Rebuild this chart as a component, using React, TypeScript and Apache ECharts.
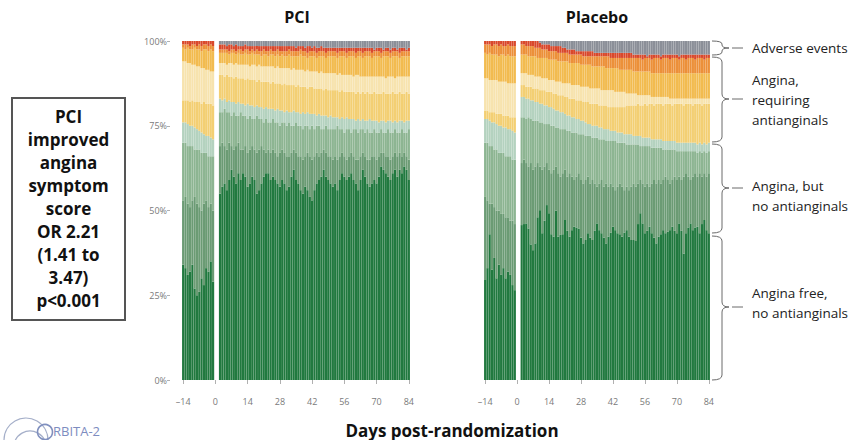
import React, { useEffect, useRef } from "react";
import * as echarts from "echarts";

// ---------- categories (days post-randomization) ----------
const days = [
  -14, -13, -12, -11, -10, -9, -8, -7, -6, -5, -4, -3, -2, -1, 0,
  1, 2, 3, 4, 5, 6, 7, 8, 9, 10, 11, 12, 13, 14, 15, 16, 17, 18, 19, 20,
  21, 22, 23, 24, 25, 26, 27, 28, 29, 30, 31, 32, 33, 34, 35, 36, 37, 38, 39, 40,
  41, 42, 43, 44, 45, 46, 47, 48, 49, 50, 51, 52, 53, 54, 55, 56, 57, 58, 59, 60,
  61, 62, 63, 64, 65, 66, 67, 68, 69, 70, 71, 72, 73, 74, 75, 76, 77, 78, 79, 80,
  81, 82, 83, 84,
];
const yTicks = [0, 25, 50, 75, 100];

// ---------- cumulative upper boundaries (%) ----------
// B1 angina free (dark green) ... B9 top of red; grey (adverse events) fills to 100
// PCI, pre-randomization (days -14..-1)
const pciPreB1 = [34, 33, 31, 32, 34, 27, 25, 26, 30, 28, 33, 32, 35, 29];
const pciPreB2 = [53, 54, 52, 51, 53, 54, 52, 51, 50, 52, 53, 51, 52, 50];
const pciPreB3 = [70, 70, 69, 69, 69, 68, 68, 68, 67, 67, 67, 66, 66, 66];
const pciPreB4 = [76, 76, 75.5, 75, 75, 74.5, 74, 73.5, 73, 72.5, 72, 72, 71.5, 71];
const pciPreB5 = [82.5, 82.5, 82.5, 82, 82.5, 82, 82, 82, 81.5, 82, 81.5, 81.5, 81.5, 81];
const pciPreB6 = [94, 94, 93.5, 93.5, 93, 93, 92.5, 92.5, 92, 92, 91.5, 91.5, 91, 91];
const pciPreB7 = [98, 97.5, 98, 97.5, 97.5, 98, 97.5, 97.5, 97, 97.5, 97.5, 97, 97.5, 97];
const pciPreB8 = [99, 99, 99, 98.5, 99, 99, 98.5, 99, 98.5, 99, 99, 98.5, 99, 98.5];
const pciPreB9 = [100, 100, 100, 100, 100, 100, 100, 100, 100, 100, 100, 100, 100, 100];

// PCI, post-randomization (days 2..84)
const pciPostB1 = [
  55, 57, 58, 56, 59, 62, 60, 58, 61, 59,
  61, 60, 57, 58, 60, 59, 55, 56, 58, 60,
  61, 61, 59, 60, 59, 58, 57, 59, 58, 56,
  57, 60, 62, 59, 58, 56, 55, 57, 56, 54,
  53, 56, 58, 59, 60, 62, 60, 59, 58, 57,
  58, 56, 59, 61, 60, 59, 60, 61, 59, 58,
  56, 59, 62, 60, 58, 57, 58, 59, 58, 60,
  63, 62, 61, 60, 59, 61, 62, 60, 62, 61,
  63, 62, 59,
];
const pciPostB2 = [
  69, 70, 69, 68, 70, 69, 68, 69, 70, 68,
  68, 69, 67, 68, 69, 68, 67, 68, 69, 68,
  67, 68, 67, 68, 67, 66, 67, 68, 67, 66,
  66, 67, 68, 67, 66, 66, 65, 66, 67, 66,
  65, 66, 67, 66, 67, 68, 67, 66, 66, 65,
  66, 65, 66, 67, 66, 65, 66, 67, 66, 65,
  65, 66, 67, 66, 65, 65, 66, 66, 65, 66,
  67, 67, 66, 66, 65, 66, 67, 66, 67, 66,
  67, 66, 65,
];
const pciPostB3 = [
  79, 79, 80, 79, 79, 78, 79, 78, 78, 79,
  78, 78, 77, 78, 77, 77, 78, 77, 77, 76,
  77, 76, 76, 77, 76, 76, 75, 76, 76, 75,
  76, 75, 75, 76, 75, 75, 74, 75, 75, 74,
  75, 74, 75, 75, 74, 74, 75, 74, 74, 74,
  74, 75, 74, 74, 73, 74, 74, 73, 74, 74,
  73, 74, 74, 73, 74, 73, 73, 74, 73, 73,
  74, 73, 73, 74, 73, 73, 74, 73, 73, 74,
  73, 73, 74,
];
const pciPostB4 = [
  83, 82.5, 83, 82, 82.5, 82, 82, 81.5, 82, 81.5,
  81.5, 81, 81.5, 81, 81, 80.5, 81, 80.5, 80.5, 80,
  80.5, 80, 80, 80, 79.5, 80, 79.5, 79.5, 79, 79.5,
  79, 79, 79.5, 79, 79, 78.5, 79, 78.5, 79, 78.5,
  78.5, 78.5, 78, 78.5, 78, 78, 78, 77.5, 78, 77.5,
  77.5, 77.5, 77, 77.5, 77, 77.5, 77, 77, 77, 76.5,
  77, 76.5, 77, 76.5, 76.5, 77, 76.5, 76.5, 76.5, 76,
  76.5, 76.5, 76, 76.5, 76.5, 76, 76.5, 76, 76.5, 76.5,
  76, 76.5, 76.5,
];
const pciPostB5 = [
  90, 90, 89.5, 90, 89.5, 89.5, 89, 89.5, 89, 89,
  89, 88.5, 89, 88.5, 88.5, 88.5, 88, 88.5, 88, 88,
  88, 88, 87.5, 88, 87.5, 87.5, 87.5, 87, 87.5, 87,
  87, 87, 87, 86.5, 87, 86.5, 86.5, 86.5, 86, 86.5,
  86.5, 86, 86, 86, 86, 85.5, 86, 85.5, 85.5, 85.5,
  85.5, 85.5, 85, 85.5, 85, 85, 85, 85, 85, 84.5,
  85, 84.5, 85, 84.5, 85, 84.5, 84.5, 85, 84.5, 84.5,
  84.5, 85, 84.5, 84.5, 84.5, 85, 84.5, 84.5, 85, 84.5,
  84.5, 85, 84.5,
];
const pciPostB6 = [
  93.5, 93.5, 93.5, 93, 93.5, 93.5, 93, 93.5, 93, 93,
  93, 93, 93, 92.5, 93, 93, 92.5, 93, 92.5, 92.5,
  92.5, 92.5, 92.5, 92.5, 92, 92.5, 92, 92, 92, 92,
  92, 91.5, 92, 91.5, 91.5, 91.5, 91.5, 91, 91.5, 91,
  91, 91, 91, 90.5, 91, 90.5, 90.5, 90.5, 90.5, 90.5,
  90.5, 90, 90.5, 90, 90, 90, 90, 90, 89.5, 90,
  90, 89.5, 89.5, 89.5, 89.5, 89.5, 89.5, 89.5, 89.5, 89.5,
  89.5, 89.5, 89, 89.5, 89.5, 89.5, 89, 89.5, 89.5, 89.5,
  89.5, 89.5, 89.5,
];
const pciPostB7 = [
  96.5, 96.5, 96.5, 96.5, 96, 96.5, 96.5, 96, 96.5, 96,
  96, 96.5, 96, 96, 96.5, 96, 96, 96, 95.5, 96,
  96, 95.5, 96, 96, 95.5, 96, 95.5, 96, 95.5, 95.5,
  96, 95.5, 95.5, 95.5, 95.5, 96, 95.5, 95.5, 95, 95.5,
  95.5, 95.5, 95, 95.5, 95.5, 95.5, 95, 95.5, 95.5, 95.5,
  95.5, 95, 95.5, 95.5, 95.5, 95, 95.5, 95.5, 95.5, 95,
  95.5, 95.5, 95, 95.5, 95.5, 95.5, 95, 95.5, 95.5, 95.5,
  95, 95.5, 95.5, 95.5, 95, 95.5, 95.5, 95.5, 95, 95.5,
  95.5, 95.5, 95.5,
];
const pciPostB8 = [
  97.5, 97.5, 97.5, 97.5, 97, 97.5, 97.5, 97, 97.5, 97.5,
  97, 97.5, 97.5, 97, 97.5, 97, 97.5, 97, 97, 97.5,
  97, 97, 97.5, 97, 97, 97.5, 97, 97, 97, 97,
  97.5, 97, 97, 97, 97, 97.5, 97, 97, 96.5, 97,
  97, 97, 96.5, 97, 97, 97, 96.5, 97, 97, 97,
  97, 96.5, 97, 97, 97, 96.5, 97, 97, 97, 96.5,
  97, 97, 96.5, 97, 97, 97, 96.5, 97, 97, 97,
  96.5, 97, 97, 97, 96.5, 97, 97, 97, 96.5, 97,
  97, 97, 97,
];
const pciPostB9 = [
  99, 99, 99, 98.5, 99, 99, 98.5, 99, 98.5, 98.5,
  98.5, 99, 98.5, 98.5, 98.5, 98.5, 98.5, 98.5, 98.5, 98.5,
  98.5, 98.5, 98.5, 98.5, 98.5, 98.5, 98.5, 98.5, 98.5, 98.5,
  98.5, 98.5, 98.5, 98, 98.5, 98.5, 98.5, 98, 98.5, 98.5,
  98, 98.5, 98, 98, 98.5, 98, 98, 98, 98, 98,
  98, 98, 98, 98, 98, 98, 98, 98, 98, 98,
  98, 98, 98, 98, 98, 98, 98, 97.5, 98, 98,
  98, 97.5, 98, 98, 97.5, 98, 98, 97.5, 98, 98,
  98, 97.5, 98,
];

// Placebo, pre-randomization (days -14..-1)
const pboPreB1 = [29.5, 33, 43, 32.5, 36, 30, 34, 31, 33, 30, 32, 31, 28, 26.5];
const pboPreB2 = [54, 53, 52, 52, 51, 50, 50, 49, 49, 48, 48, 47, 47, 46];
const pboPreB3 = [70, 70, 69, 69, 68, 68, 67, 67, 67, 66, 66, 66, 65, 65];
const pboPreB4 = [77, 77, 76.5, 76, 76, 75.5, 75, 75, 74.5, 74.5, 74, 74, 73.5, 73];
const pboPreB5 = [79.5, 79.5, 79, 79, 79, 78.5, 78.5, 78.5, 78, 78, 78, 77.5, 77.5, 77.5];
const pboPreB6 = [89, 89, 88.5, 88.5, 88.5, 88.5, 88, 88, 88, 88, 87.5, 87.5, 87.5, 87.5];
const pboPreB7 = [96.5, 96, 96.5, 96, 96, 96, 95.5, 96, 96, 95.5, 96, 95.5, 95.5, 95.5];
const pboPreB8 = [99, 99, 99, 98.5, 99, 99, 98.5, 99, 98.5, 98.5, 99, 98.5, 98.5, 98.5];
const pboPreB9 = [100, 100, 100, 100, 100, 100, 100, 100, 100, 100, 100, 100, 100, 100];

// Placebo, post-randomization (days 2..84)
const pboPostB1 = [
  45.7, 46, 46.2, 44.7, 40, 38.3, 40.3, 48, 50.1, 43.3,
  47, 51.6, 49.2, 43, 42.3, 50, 42.3, 42.8, 43, 47.2,
  44, 42.3, 44.2, 45.2, 45, 44.7, 42, 40.3, 41.3, 43.3,
  42, 41.3, 44, 46.2, 44.2, 43.3, 42, 40.3, 42.3, 43.5,
  45.2, 44.2, 43.3, 43, 42.3, 43.5, 44.2, 42.3, 41.3, 41.3,
  41, 46, 49.2, 46.2, 43.3, 44, 45.2, 43.3, 42, 40.3,
  42.3, 43, 44.2, 43.3, 43.8, 44.2, 45.2, 44, 43.3, 46.2,
  44, 37.3, 43.3, 45, 46.2, 44.2, 45, 45.2, 43.3, 46,
  47.2, 44.2, 43.3,
];
const pboPostB2 = [
  64, 65, 64, 63, 64, 62, 63, 64, 63, 62,
  63, 64, 62, 61, 62, 63, 61, 60, 61, 62,
  60, 61, 60, 59, 60, 61, 59, 58, 59, 60,
  58, 59, 58, 57, 58, 59, 57, 58, 57, 58,
  57, 56, 57, 58, 57, 56, 57, 56, 57, 58,
  57, 58, 59, 58, 57, 58, 57, 58, 59, 58,
  59, 58, 59, 60, 59, 58, 59, 60, 59, 60,
  59, 60, 61, 60, 59, 60, 61, 60, 61, 60,
  61, 60, 61,
];
const pboPostB3 = [
  77.5, 77.5, 77, 77.5, 77, 76.5, 76.5, 76.5, 76, 76,
  75.5, 75.5, 75.5, 75, 75, 74.5, 74.5, 74, 74, 74,
  73.5, 73.5, 73, 73, 73, 72.5, 72.5, 72.5, 72, 72,
  72, 71.5, 71.5, 71.5, 71, 71, 71, 70.5, 70.5, 70.5,
  70.5, 70.5, 70, 70, 70, 70, 69.5, 69.5, 69.5, 69.5,
  69.5, 69.5, 69, 69, 69, 69, 69, 68.5, 68.5, 68.5,
  68.5, 68.5, 68, 68, 68, 68, 68, 68, 67.5, 67.5,
  67.5, 67.5, 67.5, 67.5, 67.5, 67.5, 67.5, 67, 67.5, 67,
  67.5, 67, 67.5,
];
const pboPostB4 = [
  83.5, 83.5, 83, 83, 82.5, 82.5, 82, 82, 81.5, 81.5,
  81, 81, 80.5, 80.5, 80, 79.5, 79.5, 79, 79, 78.5,
  78, 78, 77.5, 77.5, 77, 77, 76.5, 76.5, 76, 75.5,
  75.5, 75, 75, 75, 74.5, 74.5, 74, 74, 74, 73.5,
  73.5, 73.5, 73, 73, 73, 72.5, 72.5, 72.5, 72.5, 72,
  72, 72, 72, 71.5, 71.5, 71.5, 71.5, 71, 71, 71,
  71, 71, 70.5, 70.5, 70.5, 70.5, 70.5, 70.5, 70, 70,
  70, 70, 70, 70, 70, 70, 70, 69.5, 70, 69.5,
  70, 69.5, 70,
];
const pboPostB5 = [
  87, 87, 86.5, 86.5, 86.5, 86, 86, 86, 85.5, 85.5,
  85.5, 85, 85, 85, 84.5, 84.5, 84, 84, 84, 83.5,
  83.5, 83, 83, 83, 82.5, 82.5, 82.5, 82, 82, 82,
  81.5, 81.5, 81.5, 81.5, 81, 81, 81, 81, 80.5, 80.5,
  80.5, 80.5, 80.5, 80.5, 80.5, 80.5, 81, 81, 81, 81,
  81, 81.5, 81, 81, 81.5, 81, 81.5, 81.5, 81, 81.5,
  81.5, 81.5, 81, 81.5, 81.5, 81.5, 81, 81.5, 81.5, 81.5,
  81.5, 81, 81.5, 81.5, 81.5, 81, 81.5, 81.5, 81.5, 81,
  81.5, 81.5, 81.5,
];
const pboPostB6 = [
  90.5, 90.5, 90.5, 90, 90, 90, 89.5, 89.5, 89.5, 89,
  89, 89, 88.5, 88.5, 88.5, 88, 88, 88, 87.5, 87.5,
  87.5, 87.5, 87, 87, 87, 87, 86.5, 86.5, 86.5, 86.5,
  86, 86, 86, 86, 86, 85.5, 85.5, 85.5, 85.5, 85.5,
  85.5, 85, 85, 85, 85, 85, 84.5, 84.5, 84.5, 84.5,
  84.5, 84, 84, 84, 84, 84, 84, 83.5, 83.5, 83.5,
  83.5, 83.5, 83.5, 83.5, 83.5, 83, 83, 83, 83, 83,
  83, 83, 83, 83, 83, 83, 83, 83, 83, 83,
  83, 83, 83,
];
const pboPostB7 = [
  96, 96, 96, 95.5, 95.5, 95.5, 95.5, 95, 95, 95,
  95, 95, 94.5, 94.5, 94.5, 94.5, 94, 94, 94, 94,
  94, 93.5, 93.5, 93.5, 93.5, 93.5, 93, 93, 93, 93,
  93, 92.5, 92.5, 92.5, 92.5, 92.5, 92.5, 92, 92, 92,
  92, 92, 92, 91.5, 91.5, 91.5, 91.5, 91.5, 91.5, 91,
  91, 91, 91, 91, 91, 91, 91, 90.5, 90.5, 90.5,
  90.5, 90.5, 90.5, 90.5, 90.5, 90.5, 90.5, 90.5, 90.5, 90.5,
  90.5, 90.5, 90.5, 90.5, 90.5, 90.5, 90.5, 90.5, 90.5, 90.5,
  90.5, 90.5, 90.5,
];
const pboPostB8 = [
  99, 99, 98.5, 98.5, 98.5, 98.5, 98, 98, 98, 97.5,
  97.5, 97.5, 97, 97, 97, 97, 96.5, 96.5, 96.5, 96.5,
  96.5, 96, 96, 96, 96, 96, 96, 95.5, 95.5, 95.5,
  95.5, 95.5, 95.5, 95.5, 95.5, 95.5, 95.5, 95.5, 95.5, 95,
  95, 95, 95, 95, 95, 95, 95, 95, 95, 95,
  95, 95, 95, 94.5, 95, 95, 95, 94.5, 95, 95,
  95, 94.5, 95, 95, 95, 94.5, 95, 95, 95, 94.5,
  95, 95, 94.5, 95, 95, 95, 94.5, 95, 95, 95,
  94.5, 95, 95,
];
const pboPostB9 = [
  100, 100, 100, 100, 100, 100, 100, 100, 99.5, 99,
  99, 99, 99, 98.5, 98.5, 98.5, 98.5, 98.5, 98, 98,
  97.5, 97.5, 97.5, 97.5, 97, 97, 97, 97, 97, 97,
  97, 97, 96.5, 96.5, 96.5, 96.5, 96.5, 96.5, 96.5, 96.5,
  96.5, 96.5, 96.5, 96.5, 96.5, 96.5, 96.5, 96.5, 96.5, 96,
  96, 96, 96, 96, 96, 95.5, 96, 96, 96, 96,
  96, 95.5, 96, 96, 96, 96, 96, 96, 96, 95.5,
  96, 96, 96, 96, 96, 96, 96, 96, 96, 96,
  96, 96, 96,
];

const layerColors = [
  "#21793f", // angina free, no antianginals
  "#6b9b74",
  "#8db592",
  "#b4d2bf",
  "#f3cf73",
  "#f7e3ae",
  "#f2bb4f",
  "#ec9039",
  "#d9482b",
  "#8b8f98", // adverse events
];

const boxLines = ["PCI", "improved", "angina", "symptom", "score", "OR 2.21", "(1.41 to", "3.47)", "p<0.001"];

const FONT = '"Open Sans", "Noto Sans", sans-serif';

function joinDays(pre: number[], post: number[]): (number | null)[] {
  return [...pre, null, null, ...post];
}

function buildLayers(pre: number[][], post: number[][]): (number | null)[][] {
  const bounds = pre.map((p, i) => joinDays(p, post[i]));
  const n = days.length;
  const out: (number | null)[][] = [];
  for (let j = 0; j <= bounds.length; j++) {
    const arr: (number | null)[] = [];
    for (let i = 0; i < n; i++) {
      const lo = j === 0 ? 0 : bounds[j - 1][i];
      const hi = j === bounds.length ? (bounds[0][i] == null ? null : 100) : bounds[j][i];
      if (lo == null || hi == null) arr.push(null);
      else arr.push(Math.round((hi - lo) * 100) / 100);
    }
    out.push(arr);
  }
  return out;
}

function brace(x0: number, xs: number, xt: number, y1: number, y2: number, ym: number, r: number) {
  const style = { stroke: "#6a6a6a", lineWidth: 1, fill: "none" };
  return [
    { type: "bezierCurve", shape: { x1: x0, y1: y1, cpx1: xs, cpy1: y1, x2: xs, y2: y1 + r }, style },
    { type: "line", shape: { x1: xs, y1: y1 + r, x2: xs, y2: ym - r }, style },
    { type: "bezierCurve", shape: { x1: xs, y1: ym - r, cpx1: xs, cpy1: ym, x2: xt, y2: ym }, style },
    { type: "bezierCurve", shape: { x1: xt, y1: ym, cpx1: xs, cpy1: ym, x2: xs, y2: ym + r }, style },
    { type: "line", shape: { x1: xs, y1: ym + r, x2: xs, y2: y2 - r }, style },
    { type: "bezierCurve", shape: { x1: xs, y1: y2 - r, cpx1: xs, cpy1: y2, x2: x0, y2: y2 }, style },
    { type: "line", shape: { x1: xt + 3, y1: ym, x2: xt + 14, y2: ym }, style },
  ];
}

function label(text: string, x: number, y: number) {
  return {
    type: "text",
    x,
    y,
    style: {
      text,
      fill: "#222",
      font: `13.5px ${FONT}`,
      lineHeight: 20,
      align: "left",
      verticalAlign: "middle",
    },
  };
}

export default function App() {
  const ref = useRef<HTMLDivElement>(null);

  useEffect(() => {
    if (!ref.current) return;
    const chart = echarts.init(ref.current, undefined, { renderer: "svg" });

    const pciLayers = buildLayers(
      [pciPreB1, pciPreB2, pciPreB3, pciPreB4, pciPreB5, pciPreB6, pciPreB7, pciPreB8, pciPreB9],
      [pciPostB1, pciPostB2, pciPostB3, pciPostB4, pciPostB5, pciPostB6, pciPostB7, pciPostB8, pciPostB9]
    );
    const pboLayers = buildLayers(
      [pboPreB1, pboPreB2, pboPreB3, pboPreB4, pboPreB5, pboPreB6, pboPreB7, pboPreB8, pboPreB9],
      [pboPostB1, pboPostB2, pboPostB3, pboPostB4, pboPostB5, pboPostB6, pboPostB7, pboPostB8, pboPostB9]
    );

    const cats = days.map((d) => (d < 0 ? "\u2013" + Math.abs(d) : String(d)));

    const xAxisBase = (gridIndex: number) => ({
      type: "category",
      gridIndex,
      data: cats,
      boundaryGap: true,
      offset: 11,
      axisLine: { show: false },
      axisTick: { show: true, alignWithLabel: true, interval: 13, length: 4, lineStyle: { color: "#b0b0b0" } },
      axisLabel: { interval: 13, fontSize: 9, color: "#7a7a7a", margin: 6, fontFamily: FONT },
      splitLine: { show: false },
    });

    const makeSeries = (layers: (number | null)[][], idx: number) =>
      layers.map((d, j) => ({
        type: "bar",
        name: `p${idx}_${j}`,
        xAxisIndex: idx,
        yAxisIndex: idx,
        stack: `panel${idx}`,
        data: d,
        barCategoryGap: "5%",
        silent: true,
        itemStyle: { color: layerColors[j] },
      }));

    const graphic: any[] = [
      { type: "text", x: 297, y: 17, style: { text: "PCI", font: `bold 16px ${FONT}`, fill: "#111", align: "center", verticalAlign: "middle" } },
      { type: "text", x: 597, y: 17, style: { text: "Placebo", font: `bold 16px ${FONT}`, fill: "#111", align: "center", verticalAlign: "middle" } },
      { type: "text", x: 452, y: 430, style: { text: "Days post-randomization", font: `bold 17px ${FONT}`, fill: "#111", align: "center", verticalAlign: "middle" } },
      { type: "rect", shape: { x: 12, y: 98, width: 113, height: 222 }, style: { fill: "none", stroke: "#555", lineWidth: 2 } },
      {
        type: "text",
        x: 68.5,
        y: 105,
        style: { text: boxLines.join("\n"), font: `bold 17px ${FONT}`, lineHeight: 23, fill: "#111", align: "center", verticalAlign: "top" },
      },
      ...brace(712, 722, 729, 41, 55, 48, 3),
      ...brace(712, 722, 729, 57, 142, 99, 5),
      ...brace(712, 722, 729, 144, 233, 188, 5),
      ...brace(712, 722, 729, 236, 380, 307, 5),
      label("Adverse events", 752, 48),
      label("Angina,\nrequiring\nantianginals", 752, 100),
      label("Angina, but\nno antianginals", 752, 196),
      label("Angina free,\nno antianginals", 752, 303),
      // logo
      { type: "circle", shape: { cx: 26, cy: 440, r: 22 }, style: { fill: "none", stroke: "#a5afc9", lineWidth: 1.2 } },
      { type: "circle", shape: { cx: 30, cy: 447, r: 16 }, style: { fill: "none", stroke: "#a5afc9", lineWidth: 1.2 } },
      { type: "circle", shape: { cx: 45, cy: 432, r: 7.5 }, style: { fill: "none", stroke: "#8090bf", lineWidth: 1.6 } },
      { type: "text", x: 53, y: 431, style: { text: "RBITA-2", font: `13px ${FONT}`, fill: "#7d8cc0", align: "left", verticalAlign: "middle" } },
    ];

    chart.setOption({
      animation: false,
      backgroundColor: "#ffffff",
      grid: [
        { left: 182, top: 41, width: 228, height: 339, containLabel: false },
        { left: 484, top: 41, width: 226, height: 339, containLabel: false },
      ],
      xAxis: [xAxisBase(0), xAxisBase(1)],
      yAxis: [
        {
          type: "value",
          gridIndex: 0,
          min: yTicks[0],
          max: yTicks[yTicks.length - 1],
          interval: 25,
          offset: 12,
          axisLine: { show: false },
          axisTick: { show: true, length: 3, lineStyle: { color: "#b0b0b0" } },
          axisLabel: { formatter: "{value}%", fontSize: 9, color: "#7a7a7a", margin: 3, fontFamily: FONT },
          splitLine: { show: false },
        },
        {
          type: "value",
          gridIndex: 1,
          min: yTicks[0],
          max: yTicks[yTicks.length - 1],
          interval: 25,
          axisLine: { show: false },
          axisTick: { show: false },
          axisLabel: { show: false },
          splitLine: { show: false },
        },
      ],
      series: [...makeSeries(pciLayers, 0), ...makeSeries(pboLayers, 1)],
      graphic,
    });

    return () => chart.dispose();
  }, []);

  return <div ref={ref} style={{ position: "fixed", left: 0, top: 0, width: 856, height: 440 }} />;
}
